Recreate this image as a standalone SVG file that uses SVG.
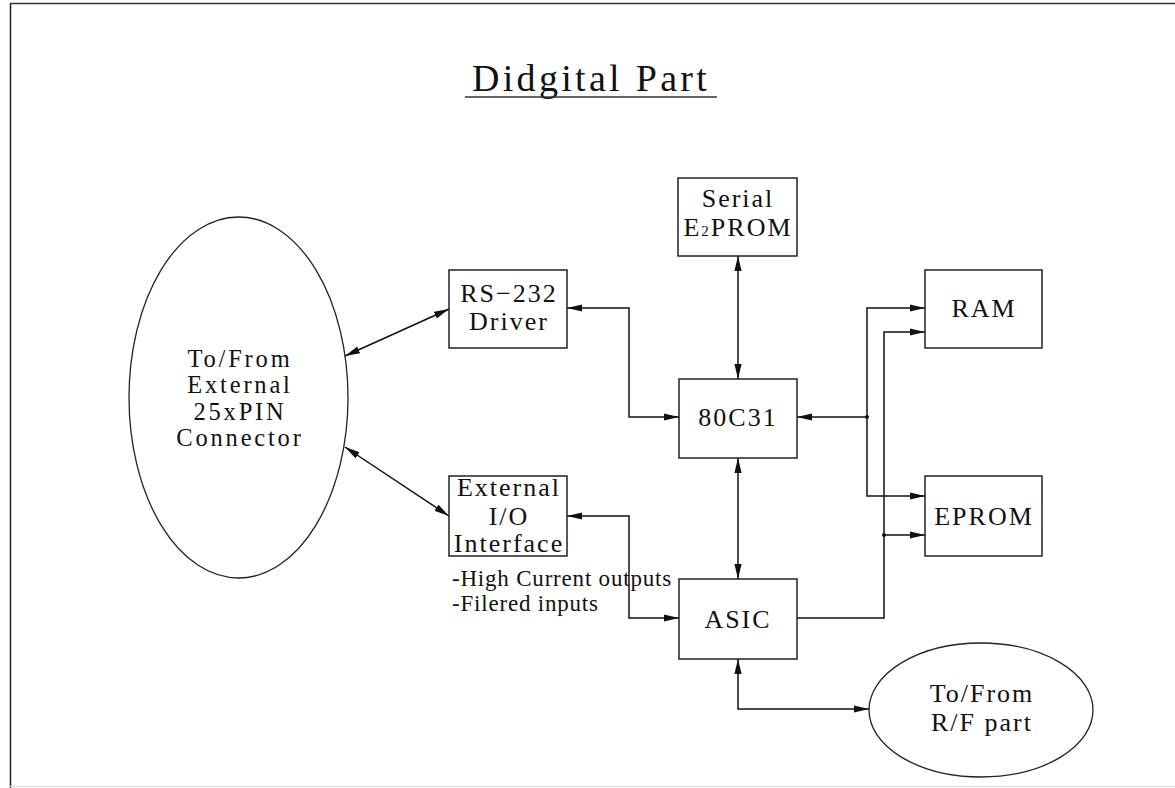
<svg xmlns="http://www.w3.org/2000/svg" width="1175" height="788" viewBox="0 0 1175 788">
<style>
.box{fill:#fff;stroke:#222;stroke-width:1.5}
.ell{fill:#fff;stroke:#222;stroke-width:1.3}
.lbl{font-family:"Liberation Serif",serif;font-size:26px;letter-spacing:2px;text-anchor:middle;fill:#111}
.lbs{font-family:"Liberation Serif",serif;font-size:24.5px;letter-spacing:2.8px;text-anchor:middle;fill:#111}
.note{font-family:"Liberation Serif",serif;font-size:23px;letter-spacing:0.8px;fill:#111}
.title{font-family:"Liberation Serif",serif;font-size:38px;letter-spacing:3.3px;fill:#111}
.wire{fill:none;stroke:#111;stroke-width:1.5}
</style>
<defs>
<marker id="ah" markerUnits="userSpaceOnUse" viewBox="0 -4 16 8" refX="15" refY="0" markerWidth="16" markerHeight="8" orient="auto-start-reverse">
<path d="M0,-3.6 L15,0 L0,3.6 z" fill="#111"/>
</marker>
</defs>
<rect x="0" y="0" width="1175" height="788" fill="#fff"/>
<g id="frame">
<line x1="10" y1="3.5" x2="1175" y2="3.5" stroke="#333" stroke-width="1.5"/>
<line x1="10.5" y1="3" x2="10.5" y2="788" stroke="#222" stroke-width="1.5"/>
<line x1="10" y1="786.5" x2="1175" y2="786.5" stroke="#ddd" stroke-width="1"/>
</g>
<g id="title">
<text class="title" x="472" y="91">Didgital Part</text>
<line x1="465" y1="97" x2="717" y2="97" stroke="#333" stroke-width="1.5"/>
</g>
<g id="connectors">
<path class="wire" d="M345,356 L449,309" marker-start="url(#ah)" marker-end="url(#ah)"/>
<path class="wire" d="M345,447 L449,516" marker-start="url(#ah)" marker-end="url(#ah)"/>
<path class="wire" d="M567,308 H629 V417 H679" marker-start="url(#ah)" marker-end="url(#ah)"/>
<path class="wire" d="M567,516 H629 V618 H679" marker-start="url(#ah)" marker-end="url(#ah)"/>
<path class="wire" d="M738,256 V379" marker-start="url(#ah)" marker-end="url(#ah)"/>
<path class="wire" d="M738,458 V579" marker-start="url(#ah)" marker-end="url(#ah)"/>
<path class="wire" d="M738,659 V709 H869" marker-start="url(#ah)" marker-end="url(#ah)"/>
<path class="wire" d="M797,417 H867" marker-start="url(#ah)"/>
<path class="wire" d="M925,308 H867 V496 H925" marker-start="url(#ah)" marker-end="url(#ah)"/>
<path class="wire" d="M797,618 H884 V332 H925" marker-end="url(#ah)"/>
<path class="wire" d="M884,535 H925" marker-end="url(#ah)"/>
<circle cx="867" cy="417" r="2" fill="#111"/>
<circle cx="884" cy="535" r="2" fill="#111"/>
</g>
<g id="ext-connector">
<ellipse class="ell" cx="238.5" cy="397.5" rx="109.5" ry="180.5"/>
<text class="lbs" x="240" y="367">To/From</text>
<text class="lbs" x="240" y="393">External</text>
<text class="lbs" x="240" y="420">25xPIN</text>
<text class="lbs" x="240" y="446">Connector</text>
</g>
<g id="rs232">
<rect class="box" x="449" y="270" width="118" height="78"/>
<text class="lbl" x="509" y="302">RS−232</text>
<text class="lbl" x="509" y="330">Driver</text>
</g>
<g id="extio">
<rect class="box" x="449" y="476" width="118" height="80"/>
<text class="lbl" x="509" y="496">External</text>
<text class="lbl" x="509" y="525">I/O</text>
<text class="lbl" x="509" y="552">Interface</text>
<text class="note" x="452" y="586">-High Current outputs</text>
<text class="note" x="452" y="611">-Filered inputs</text>
</g>
<g id="eeprom">
<rect class="box" x="678" y="178" width="119" height="78"/>
<text class="lbl" x="738" y="207">Serial</text>
<text class="lbl" x="738" y="236">E<tspan font-size="15">2</tspan>PROM</text>
</g>
<g id="cpu">
<rect class="box" x="679" y="379" width="118" height="79"/>
<text class="lbl" x="738" y="426">80C31</text>
</g>
<g id="asic">
<rect class="box" x="679" y="579" width="118" height="80"/>
<text class="lbl" x="738" y="628">ASIC</text>
</g>
<g id="ram">
<rect class="box" x="925" y="270" width="117" height="78"/>
<text class="lbl" x="984" y="317">RAM</text>
</g>
<g id="eprom">
<rect class="box" x="925" y="476" width="117" height="80"/>
<text class="lbl" x="984" y="525">EPROM</text>
</g>
<g id="rf">
<ellipse class="ell" cx="981" cy="710" rx="112" ry="67"/>
<text class="lbl" x="982" y="702">To/From</text>
<text class="lbl" x="982" y="731">R/F part</text>
</g>
</svg>
